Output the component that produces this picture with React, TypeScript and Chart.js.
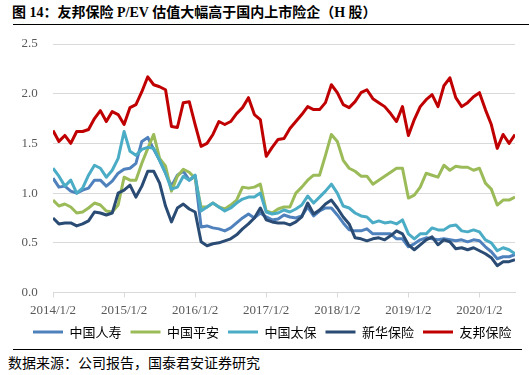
import React, { useEffect, useRef } from "react";
import { Chart, registerables } from "chart.js";

Chart.register(...registerables);

const seriesNames = ["中国人寿", "中国平安", "中国太保", "新华保险", "友邦保险"];
const seriesColors = ["#4F81BD", "#9BBB59", "#4BACC6", "#2A4B73", "#C00000"];
const xTickLabels = ["2014/1/2", "2015/1/2", "2016/1/2", "2017/1/2", "2018/1/2", "2019/1/2", "2020/1/2"];

// monthly P/EV readings, Jan 2014 .. Jul 2020
const chinaLife = [
  1.15, 1.06, 1.07, 1.02, 1.0, 1.03, 1.05, 1.13, 1.13, 1.07,
  1.12, 1.2, 1.24, 1.25, 1.3, 1.52, 1.56, 1.44, 1.33, 1.2,
  1.07, 1.18, 1.22, 1.13, 1.17, 0.66, 0.67, 0.65, 0.64, 0.62,
  0.65, 0.7, 0.75, 0.79, 0.75, 0.8, 0.76, 0.73, 0.74, 0.78,
  0.76, 0.75, 0.77, 0.86, 0.77, 0.82, 0.85, 0.85, 0.78, 0.7,
  0.63, 0.62, 0.62, 0.64, 0.59, 0.59, 0.59, 0.59, 0.54, 0.54,
  0.46, 0.49, 0.53, 0.55, 0.54, 0.53, 0.54, 0.53, 0.52, 0.53,
  0.51, 0.53, 0.52, 0.46, 0.41, 0.34, 0.36, 0.36, 0.38,
];
const pingAn = [
  0.93, 0.87, 0.89, 0.86, 0.8, 0.81, 0.85, 0.9, 0.88, 0.82,
  0.81, 0.88, 1.16, 1.13, 1.13, 1.3, 1.45, 1.59, 1.35, 1.27,
  1.02, 1.17, 1.24, 1.21, 1.15, 0.86, 0.86, 0.9, 0.86, 0.84,
  0.88, 0.93, 1.06, 1.05, 1.06, 1.09, 0.82, 0.8, 0.84, 0.86,
  0.86, 1.0, 1.06, 1.13, 1.18, 1.18, 1.38, 1.59, 1.52, 1.33,
  1.25, 1.22, 1.17, 1.17, 1.09, 1.13, 1.17, 1.21, 1.25, 1.25,
  0.95, 0.98, 1.06, 1.2, 1.18, 1.16, 1.28, 1.23, 1.27, 1.26,
  1.26, 1.23, 1.25, 1.1, 1.04, 0.88, 0.93, 0.93, 0.96,
];
const cpic = [
  1.25, 1.17, 1.07, 1.13, 1.0, 1.05, 1.18, 1.28, 1.25, 1.16,
  1.23, 1.35, 1.62, 1.42, 1.38, 1.44, 1.46, 1.45, 1.33, 1.2,
  1.04, 1.06, 1.17, 1.13, 1.18, 0.82, 0.86, 0.9, 0.86, 0.82,
  0.85, 0.9, 0.94, 0.96, 0.96, 1.0, 0.81, 0.79, 0.8, 0.83,
  0.81, 0.84, 0.88, 0.97, 0.9, 0.96, 1.02, 1.09, 1.0, 0.87,
  0.85, 0.8, 0.77, 0.76, 0.7, 0.72, 0.7, 0.71, 0.69, 0.73,
  0.59, 0.54, 0.59, 0.59, 0.65, 0.63, 0.63, 0.67, 0.68, 0.62,
  0.61, 0.63, 0.61, 0.53, 0.5, 0.42, 0.45, 0.43, 0.39,
];
const newChinaLife = [
  0.75, 0.69, 0.7, 0.7, 0.67, 0.69, 0.72, 0.81, 0.8, 0.78,
  0.8, 1.0, 1.03, 1.08, 0.96, 1.07, 1.22, 1.22, 1.1, 0.87,
  0.71, 0.85, 0.89, 0.84, 0.81, 0.51, 0.47, 0.49, 0.5, 0.52,
  0.54, 0.58, 0.64, 0.69, 0.75, 0.85, 0.73, 0.71, 0.7, 0.7,
  0.68, 0.71, 0.76, 0.9, 0.79, 0.83, 0.89, 0.93, 0.85, 0.76,
  0.69, 0.55, 0.54, 0.52, 0.54, 0.55, 0.53, 0.57, 0.62, 0.59,
  0.48, 0.43, 0.48, 0.53, 0.56, 0.48, 0.53, 0.51, 0.44, 0.45,
  0.43, 0.45, 0.42, 0.39, 0.35, 0.27, 0.31, 0.31, 0.33,
];
const aia = [
  1.63, 1.52, 1.58, 1.5, 1.62, 1.62, 1.64, 1.75, 1.83, 1.72,
  1.82, 1.79, 1.69, 1.86, 1.89, 2.02, 2.17, 2.09, 2.07, 2.04,
  1.67, 1.66, 1.91, 1.92, 1.69, 1.47, 1.5, 1.59, 1.72, 1.69,
  1.72, 1.8, 1.86, 1.96, 1.79, 1.74, 1.37, 1.46, 1.54, 1.55,
  1.65, 1.72, 1.79, 1.87, 1.84, 1.84, 1.91, 2.09, 2.01, 1.89,
  1.86, 1.92, 2.01, 2.04, 1.95, 1.91, 1.87, 1.8, 1.72, 1.87,
  1.58, 1.74, 1.87, 1.94, 1.99, 1.87, 2.08, 2.16, 1.96, 1.87,
  1.91, 1.97, 2.01, 1.84, 1.69, 1.45, 1.59, 1.5, 1.59,
];

const allSeries = [chinaLife, pingAn, cpic, newChinaLife, aia];
const drawOrder = [5, 4, 3, 2, 1];

export default function App() {
  const canvasRef = useRef<HTMLCanvasElement | null>(null);

  useEffect(() => {
    if (!canvasRef.current) return;
    const datasets = allSeries.map((vals, s) => ({
      label: seriesNames[s],
      data: vals.map((v, i) => ({ x: i / 12, y: v })),
      borderColor: seriesColors[s],
      backgroundColor: seriesColors[s],
      borderWidth: 3,
      pointRadius: 0,
      tension: 0,
      borderJoinStyle: "round" as const,
      order: drawOrder[s],
      yAxisID: "y",
    }));
    const chart = new Chart(canvasRef.current, {
      type: "line",
      data: { datasets },
      options: {
        animation: false,
        responsive: false,
        maintainAspectRatio: false,
        layout: { padding: { top: 14, right: 6.5, left: 22, bottom: 0.5 } },
        plugins: {
          tooltip: { enabled: false },
          legend: {
            position: "bottom",
            labels: {
              boxWidth: 30,
              boxHeight: 3,
              padding: 9,
              color: "#404040",
              font: { family: "'Noto Sans CJK SC', sans-serif", size: 13 },
              generateLabels: () =>
                seriesNames.map((n, i) => ({
                  text: n,
                  fillStyle: seriesColors[i],
                  strokeStyle: seriesColors[i],
                  lineWidth: 0,
                  hidden: false,
                  datasetIndex: i,
                })),
            },
          },
        },
        scales: {
          x: {
            type: "linear",
            min: 0,
            max: 6.5,
            afterFit: (scale: any) => {
              scale.height = 24;
            },
            grid: {
              drawOnChartArea: false,
              drawTicks: true,
              tickLength: 5,
              color: "#D9D9D9",
            },
            border: { color: "#D9D9D9", width: 1 },
            ticks: {
              stepSize: 1,
              includeBounds: false,
              autoSkip: false,
              maxRotation: 0,
              padding: 5,
              color: "#595959",
              font: { family: "'Liberation Serif', serif", size: 13 },
              callback: (v: any) => (Number.isInteger(v) ? xTickLabels[v] ?? "" : ""),
            },
          },
          y: {
            position: "left",
            min: 0,
            max: 2.5,
            afterFit: (scale: any) => {
              scale.width = 31;
            },
            grid: { color: "#D9D9D9", drawTicks: false },
            border: { display: false },
            ticks: {
              stepSize: 0.5,
              mirror: true,
              crossAlign: "near",
              padding: -31.5,
              color: "#595959",
              font: { family: "'Liberation Serif', serif", size: 13 },
              callback: (v: any) => Number(v).toFixed(1),
            },
          },
          yRight: {
            position: "right",
            display: true,
            min: 0,
            max: 2.5,
            afterFit: (scale: any) => {
              scale.width = 7.5;
            },
            grid: { display: false, drawTicks: false },
            border: { display: false },
            ticks: { display: false },
          },
        },
      },
    });
    return () => chart.destroy();
  }, []);

  return (
    <div style={{ position: "absolute", left: 0, top: 0, width: 529, height: 375, background: "#fff", overflow: "hidden" }}>
      <div
        style={{
          position: "absolute",
          left: 12,
          top: 4,
          fontFamily: "'Liberation Serif', 'Noto Sans CJK SC', serif",
          fontWeight: "bold",
          fontSize: 14,
          color: "#000",
          whiteSpace: "nowrap",
          lineHeight: "18px",
        }}
      >
        图 14：友邦保险 P/EV 估值大幅高于国内上市险企（H 股）
      </div>
      <div style={{ position: "absolute", left: 13, top: 24, width: 516, borderTop: "1.5px solid #000" }} />
      <canvas ref={canvasRef} width={529} height={319} style={{ position: "absolute", left: 0, top: 30, width: 529, height: 319 }} />
      <div style={{ position: "absolute", left: 13, top: 349, width: 509, borderTop: "1px solid #000" }} />
      <div
        style={{
          position: "absolute",
          left: 8,
          top: 353,
          fontFamily: "'Noto Sans CJK SC', sans-serif",
          fontSize: 14,
          color: "#000",
          whiteSpace: "nowrap",
          lineHeight: "18px",
        }}
      >
        数据来源：公司报告，国泰君安证券研究
      </div>
    </div>
  );
}
